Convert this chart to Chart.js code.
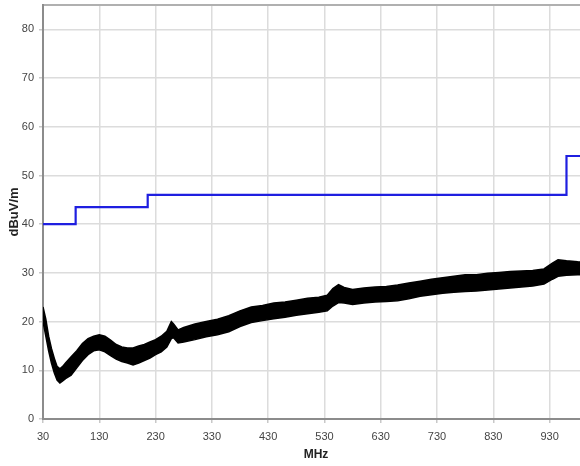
<!DOCTYPE html>
<html>
<head>
<meta charset="utf-8">
<script src="https://cdn.jsdelivr.net/npm/chart.js@4/dist/chart.umd.min.js"></script>
<style>
html,body{margin:0;padding:0;background:#fff;overflow:hidden;width:580px;height:466px;}
canvas{display:block;}
</style>
</head>
<body>
<canvas id="c" width="600" height="466"></canvas>
<script>
// Frequency ticks (MHz)
const xTicks = [30,130,230,330,430,530,630,730,830,930];
const yTicks = [0,10,20,30,40,50,60,70,80];

// Limit line (dBuV/m)
const limitFreq = [30, 88, 88, 216, 216, 960, 960, 1000];
const limitVal  = [40, 40, 43.5, 43.5, 46, 46, 54, 54];

// Measured trace envelope (upper / lower edge of the noisy trace)
const traceFreq = [30,35,40,45,50,55,60,65,70,80,90,100,110,120,130,140,150,160,170,180,190,200,210,220,230,240,250,258,262,270,280,300,320,340,360,380,400,420,440,460,480,500,520,535,545,555,565,580,600,620,640,660,680,700,720,740,760,780,800,820,840,860,880,900,920,935,945,960,980,1000];
const traceUpper = [23,20.5,17,14.5,12.5,10.8,10.3,10.8,11.5,12.8,14,15.5,16.5,17,17.3,17,16.2,15.3,14.8,14.6,14.6,15,15.3,15.8,16.3,17,18,20,19.5,18.3,18.8,19.5,20,20.5,21.2,22.2,23,23.3,23.8,24,24.4,24.8,25,25.4,26.8,27.6,27,26.6,26.9,27.1,27.2,27.5,27.9,28.3,28.7,29,29.3,29.6,29.6,29.9,30.1,30.3,30.4,30.5,30.8,32,32.7,32.5,32.3,32.2];
const traceLower = [20,17,14,11.5,9.5,8,7.4,7.8,8.3,9,10.5,12,13.2,14,14.2,13.8,13,12.3,11.8,11.5,11.1,11.5,12,12.5,13.2,13.8,14.8,16.5,16.7,15.6,15.8,16.3,16.9,17.3,17.9,19,19.8,20.2,20.6,20.9,21.3,21.6,21.9,22.2,23.2,23.9,23.8,23.5,23.8,24,24.1,24.3,24.7,25.2,25.5,25.8,26,26.2,26.3,26.5,26.7,26.9,27.1,27.3,27.7,28.7,29.3,29.5,29.6,29.6];

const pts = (xs, ys) => xs.map((x,i)=>({x:x, y:ys[i]}));

const FONT = "'Liberation Sans Narrow','Liberation Sans',Arial,sans-serif";

new Chart(document.getElementById('c'), {
  type: 'line',
  data: {
    datasets: [
      {
        label: 'Limit',
        data: pts(limitFreq, limitVal),
        borderColor: '#1f1fe0',
        borderWidth: 2.2,
        pointRadius: 0,
        fill: false,
        tension: 0
      },
      {
        label: 'Upper',
        data: pts(traceFreq, traceUpper),
        borderColor: '#000',
        borderWidth: 1.5,
        pointRadius: 0,
        fill: false,
        tension: 0
      },
      {
        label: 'Lower',
        data: pts(traceFreq, traceLower),
        borderColor: '#000',
        borderWidth: 1.5,
        backgroundColor: '#000',
        pointRadius: 0,
        fill: '-1',
        tension: 0
      }
    ]
  },
  options: {
    responsive: false,
    animation: false,
    layout: { padding: { left: 0, top: 5, right: 11, bottom: 0 } },
    plugins: { legend: { display: false }, tooltip: { enabled: false } },
    scales: {
      x: {
        type: 'linear',
        min: 30, max: 1000,
        afterBuildTicks: s => { s.ticks = xTicks.map(v => ({value: v})); },
        afterFit: s => { s.height = 47; s.paddingLeft = 0; s.paddingRight = 0; },
        grid: { color: '#dcdcdc', lineWidth: 1.5, tickLength: 4, tickColor: '#c8c8c8' },
        border: { color: '#8c8c8c', width: 2 },
        ticks: { color: '#444', font: { family: FONT, size: 11 }, padding: 7, maxRotation: 0, autoSkip: false },
        title: { display: true, text: 'MHz', color: '#222', font: { family: FONT, size: 12, weight: 'bold' }, padding: { top: 2, bottom: 4 } }
      },
      xTop: {
        type: 'linear', position: 'top', min: 30, max: 1000,
        afterFit: s => { s.height = 0; s.paddingLeft = 0; s.paddingRight = 0; },
        grid: { display: false },
        border: { color: '#b0b0b0', width: 2 },
        ticks: { display: false }
      },
      y: {
        type: 'linear',
        min: 0, max: 85,
        afterBuildTicks: s => { s.ticks = yTicks.map(v => ({value: v})); },
        afterFit: s => { s.width = 43; s.paddingTop = 0; s.paddingBottom = 0; },
        grid: { color: '#dcdcdc', lineWidth: 1.5, tickLength: 4, tickColor: '#c8c8c8' },
        border: { color: '#8c8c8c', width: 2 },
        ticks: { color: '#444', font: { family: FONT, size: 11 }, padding: 5 },
        title: { display: true, text: 'dBuV/m', color: '#222', font: { family: FONT, size: 13, weight: 'bold' }, padding: { top: 7, bottom: 0 } }
      }
    }
  }
});
</script>
</body>
</html>
